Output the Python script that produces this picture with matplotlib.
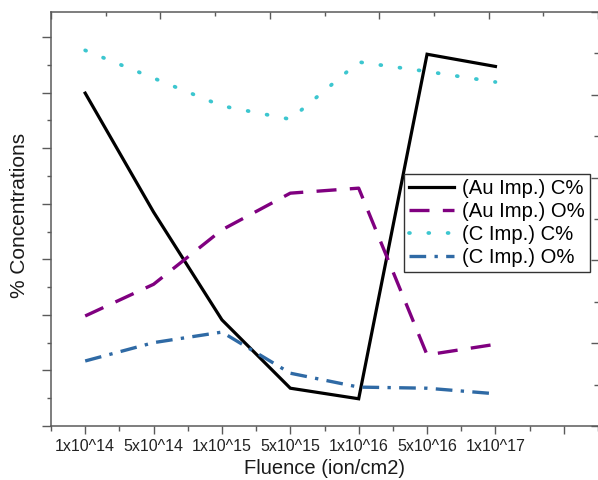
import matplotlib
matplotlib.use("Agg")
import matplotlib.pyplot as plt
import numpy as np
from matplotlib.ticker import MultipleLocator

# Fluence categories (x axis)
fluence_labels = ["1x10^14", "5x10^14", "1x10^15", "5x10^15",
                  "1x10^16", "5x10^16", "1x10^17"]
xpos = np.arange(1, len(fluence_labels) + 1)

# % concentrations
au_c = [59.9, 38.5, 19.1, 6.8, 4.9, 66.9, 64.7]     # (Au Imp.) C%
au_o = [19.8, 25.5, 35.3, 41.9, 42.8, 12.8, 14.7]   # (Au Imp.) O%
c_c = [67.6, 62.6, 57.6, 55.2, 65.5, 63.8, 61.9]    # (C Imp.) C%
c_o = [11.7, 15.0, 16.9, 9.5, 7.0, 6.8, 5.8]        # (C Imp.) O%

plt.rcParams['font.family'] = ['Liberation Sans', 'DejaVu Sans']

spine_col = '#5a5a5a'

fig = plt.figure(figsize=(5.98, 4.8), dpi=100)
ax = fig.add_axes([51 / 598, 54 / 480, 547 / 598, 414 / 480])

ax.plot(xpos, au_c, color='black', lw=2.3, label='(Au Imp.) C%',
        solid_joinstyle='miter')
ax.plot(xpos, au_o, color='#800080', lw=2.4, dashes=(6, 4),
        label='(Au Imp.) O%')
ax.plot(xpos, c_c, color='#3cc6cf', lw=2.7, dashes=(0.25, 4.9),
        dash_capstyle='round', label='(C Imp.) C%')
ax.plot(xpos, c_o, color='#2f6aa5', lw=2.4, dashes=(5, 2.5, 1, 2.5),
        label='(C Imp.) O%')

ax.set_xlim(0.5, 8.5)
ax.set_ylim(0, 74.5)
ax.set_xticks(np.arange(1, 9))
ax.set_xticklabels(fluence_labels + [""])
ax.xaxis.set_minor_locator(MultipleLocator(0.5))
ax.yaxis.set_major_locator(MultipleLocator(10))
ax.yaxis.set_minor_locator(MultipleLocator(5))
ax.set_yticklabels([])
ax.tick_params(axis='x', which='major', direction='out', length=6, width=1,
               color=spine_col, labelsize=11.5, pad=3.5, labelcolor='#222222')
ax.tick_params(axis='x', which='minor', direction='out', length=3.5, width=1,
               color=spine_col)
ax.tick_params(axis='y', which='major', direction='out', length=6.5, width=1,
               color=spine_col)
ax.tick_params(axis='y', which='minor', direction='out', length=3, width=1,
               color=spine_col)
for s in ['left', 'bottom', 'top']:
    ax.spines[s].set_color(spine_col)
    ax.spines[s].set_linewidth(1.1)
ax.spines['right'].set_visible(False)

# secondary axes: only inward ticks on top and right
axr = ax.twinx()
axr.set_ylim(0, 10)
axr.yaxis.set_major_locator(MultipleLocator(2))
axr.yaxis.set_minor_locator(MultipleLocator(1))
axr.set_yticklabels([])
axr.tick_params(axis='y', which='major', direction='in', length=5, width=1,
                color=spine_col)
axr.tick_params(axis='y', which='minor', direction='in', length=3, width=1,
                color=spine_col)
for s in axr.spines.values():
    s.set_visible(False)

axt = ax.twiny()
axt.set_xlim(0, 10)
axt.xaxis.set_major_locator(MultipleLocator(2))
axt.xaxis.set_minor_locator(MultipleLocator(1))
axt.set_xticklabels([])
axt.tick_params(axis='x', which='major', direction='in', length=5, width=1,
                color=spine_col)
axt.tick_params(axis='x', which='minor', direction='in', length=3, width=1,
                color=spine_col)
for s in axt.spines.values():
    s.set_visible(False)

fig.text(324.5 / 598, 1 - 469 / 480, 'Fluence (ion/cm2)', ha='center',
         va='center', fontsize=14.5, color='#1a1a1a')
fig.text(20 / 598, 1 - 215 / 480, '% Concentrations', ha='center',
         va='center', rotation=90, fontsize=15, color='#1a1a1a')

leg = ax.legend(loc='upper left', bbox_to_anchor=(404 / 598, 1 - 174 / 480),
                bbox_transform=fig.transFigure, borderaxespad=0,
                fontsize=14.6, handlelength=2.2, handletextpad=0.4,
                labelspacing=0.2, borderpad=0.25, fancybox=False,
                framealpha=1)
leg.get_frame().set_edgecolor('#333333')
leg.get_frame().set_linewidth(1)
leg.set_zorder(10)

fig.savefig('out.png', dpi=100)
